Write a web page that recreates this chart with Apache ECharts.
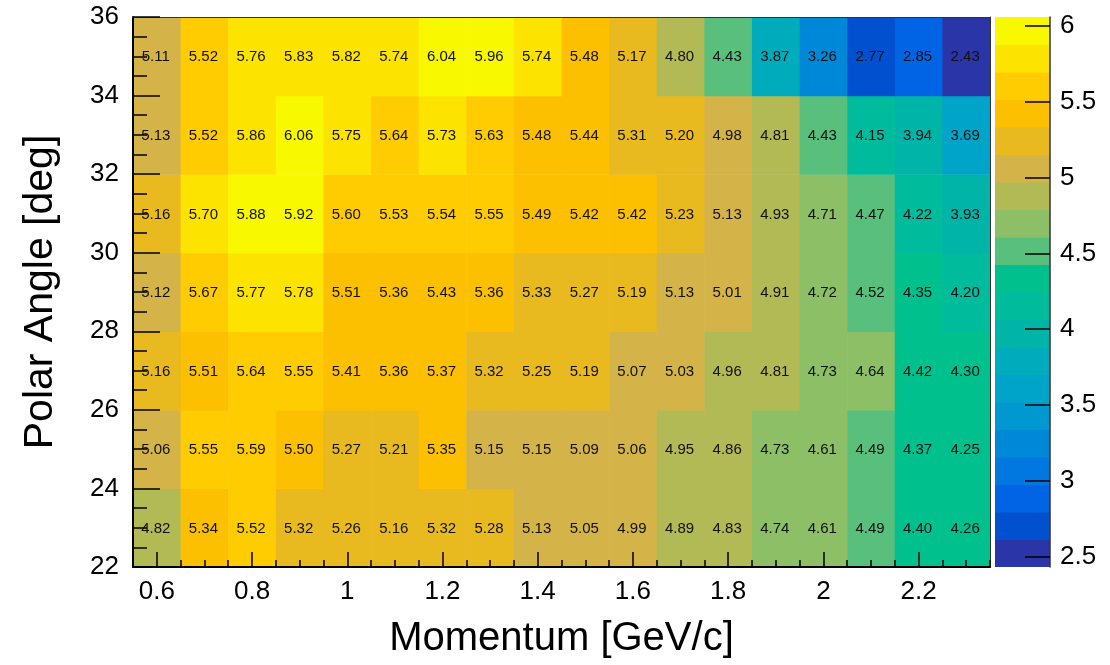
<!DOCTYPE html>
<html>
<head>
<meta charset="utf-8">
<script src="https://cdn.jsdelivr.net/npm/echarts@6/dist/echarts.min.js"></script>
<style>
html,body{margin:0;padding:0;background:#fff;}
#chart{width:1110px;height:665px;}
</style>
</head>
<body>
<div id="chart"></div>
<script>
// ---- data ----
const momentumCenters = [0.6,0.7,0.8,0.9,1.0,1.1,1.2,1.3,1.4,1.5,1.6,1.7,1.8,1.9,2.0,2.1,2.2,2.3];
const angleCenters = [23,25,27,29,31,33,35];
const angle35 = [5.11,5.52,5.76,5.83,5.82,5.74,6.04,5.96,5.74,5.48,5.17,4.80,4.43,3.87,3.26,2.77,2.85,2.43];
const angle33 = [5.13,5.52,5.86,6.06,5.75,5.64,5.73,5.63,5.48,5.44,5.31,5.20,4.98,4.81,4.43,4.15,3.94,3.69];
const angle31 = [5.16,5.70,5.88,5.92,5.60,5.53,5.54,5.55,5.49,5.42,5.42,5.23,5.13,4.93,4.71,4.47,4.22,3.93];
const angle29 = [5.12,5.67,5.77,5.78,5.51,5.36,5.43,5.36,5.33,5.27,5.19,5.13,5.01,4.91,4.72,4.52,4.35,4.20];
const angle27 = [5.16,5.51,5.64,5.55,5.41,5.36,5.37,5.32,5.25,5.19,5.07,5.03,4.96,4.81,4.73,4.64,4.42,4.30];
const angle25 = [5.06,5.55,5.59,5.50,5.27,5.21,5.35,5.15,5.15,5.09,5.06,4.95,4.86,4.73,4.61,4.49,4.37,4.25];
const angle23 = [4.82,5.34,5.52,5.32,5.26,5.16,5.32,5.28,5.13,5.05,4.99,4.89,4.83,4.74,4.61,4.49,4.40,4.26];
const angleRows = [angle23,angle25,angle27,angle29,angle31,angle33,angle35];

const xTickLabels = [0.6,0.8,1.0,1.2,1.4,1.6,1.8,2.0,2.2];
const yTickLabels = [22,24,26,28,30,32,34,36];
const zTickLabels = [2.5,3,3.5,4,4.5,5,5.5,6];
const xMin = 0.55, xMax = 2.35, xBinWidth = 0.1;
const yMin = 22, yMax = 36, yBinWidth = 2;
const zMin = 2.43, zMax = 6.06, nLevels = 20;

// ---- style: palette bands (bottom -> top) ----
const bandColors = [
  '#2a36a8','#0050d0','#0064e4','#0078e0','#0088d8',
  '#0098d0','#00a4c8','#00acbc','#00b4a8','#00bc9c',
  '#00c08e','#58c07c','#8cbf66','#b2ba56','#d4b448',
  '#e8ba20','#fdc000','#fecc00','#fde400','#f8f800'
];
function valueLevel(v){
  let k = Math.floor((v - zMin)/(zMax - zMin)*nLevels);
  return Math.max(0, Math.min(nLevels-1, k));
}

const cells = [];
angleRows.forEach((row, j) => {
  row.forEach((v, i) => cells.push([momentumCenters[i], angleCenters[j], v]));
});
const levels = [];
for (let k = 0; k < nLevels; k++) {
  levels.push([k, zMin + k*(zMax-zMin)/nLevels, zMin + (k+1)*(zMax-zMin)/nLevels]);
}
const xMinorTicks = [];
for (let k = 0; k <= 36; k++) xMinorTicks.push(+(xMin + k*0.05).toFixed(2));

const FONT = "'Liberation Sans', Arial, Helvetica, sans-serif";
const chart = echarts.init(document.getElementById('chart'), null, {renderer:'canvas'});

const option = {
  backgroundColor: '#fff',
  animation: false,
  textStyle: {fontFamily: FONT},
  grid: [
    {left: 133, top: 17, width: 857, height: 550, containLabel: false},
    {left: 995, top: 17, width: 55, height: 550, containLabel: false}
  ],
  xAxis: [
    {
      type: 'value', gridIndex: 0, min: xMin, max: xMax, z: 10,
      name: 'Momentum [GeV/c]', nameLocation: 'middle', nameGap: 52,
      nameTextStyle: {fontSize: 40, color: '#000', fontFamily: FONT},
      axisLine: {show: true, onZero: false, lineStyle: {color: '#000', width: 2}},
      axisTick: {show: true, inside: true, length: 15, customValues: xTickLabels, lineStyle: {color: '#000', width: 1.5}},
      axisLabel: {show: true, customValues: xTickLabels, fontSize: 26, color: '#000', margin: 12, fontFamily: FONT,
                  formatter: v => String(+v.toFixed(2))},
      splitLine: {show: false}
    },
    {
      type: 'value', gridIndex: 0, min: xMin, max: xMax, position: 'bottom', z: 10,
      axisLine: {show: false},
      axisTick: {show: true, inside: true, length: 7, customValues: xMinorTicks, lineStyle: {color: '#000', width: 1.5}},
      axisLabel: {show: false}, splitLine: {show: false}
    },
    {
      type: 'value', gridIndex: 0, min: xMin, max: xMax, position: 'top', z: 10,
      axisLine: {show: true, onZero: false, lineStyle: {color: '#333', width: 1}},
      axisTick: {show: false}, axisLabel: {show: false}, splitLine: {show: false}
    },
    {
      type: 'value', gridIndex: 1, min: 0, max: 1, show: false
    }
  ],
  yAxis: [
    {
      type: 'value', gridIndex: 0, min: yMin, max: yMax, interval: 2, z: 10,
      name: 'Polar Angle [deg]', nameLocation: 'middle', nameGap: 72, nameRotate: 90,
      nameTextStyle: {fontSize: 41, color: '#000', fontFamily: FONT},
      axisLine: {show: true, onZero: false, lineStyle: {color: '#000', width: 2}},
      axisTick: {show: true, inside: true, length: 27, lineStyle: {color: '#000', width: 1.5}},
      minorTick: {show: true, splitNumber: 4, length: 14, lineStyle: {color: '#000', width: 1.5}},
      axisLabel: {show: true, fontSize: 26, color: '#000', margin: 14, fontFamily: FONT},
      splitLine: {show: false}, minorSplitLine: {show: false}
    },
    {
      type: 'value', gridIndex: 0, min: yMin, max: yMax, position: 'right', z: 10,
      axisLine: {show: true, onZero: false, lineStyle: {color: '#333', width: 1}},
      axisTick: {show: false}, axisLabel: {show: false}, splitLine: {show: false}
    },
    {
      type: 'value', gridIndex: 1, min: zMin, max: zMax, position: 'right', z: 10,
      axisLine: {show: true, onZero: false, lineStyle: {color: '#333', width: 1.5}},
      axisTick: {show: true, inside: true, length: 25, customValues: zTickLabels, lineStyle: {color: '#000', width: 1.5}},
      axisLabel: {show: true, customValues: zTickLabels, fontSize: 26, color: '#000', margin: 10, fontFamily: FONT,
                  formatter: v => String(v)},
      splitLine: {show: false}
    }
  ],
  series: [
    {
      type: 'custom', xAxisIndex: 0, yAxisIndex: 0, clip: true, z: 2,
      data: cells,
      renderItem: function(params, api){
        const x = api.value(0), y = api.value(1), v = api.value(2);
        const p0 = api.coord([x - xBinWidth/2, y + yBinWidth/2]);
        const p1 = api.coord([x + xBinWidth/2, y - yBinWidth/2]);
        return {
          type: 'group',
          children: [
            {type: 'rect', shape: {x: p0[0], y: p0[1], width: p1[0]-p0[0] + 0.6, height: p1[1]-p0[1] + 0.6},
             style: {fill: bandColors[valueLevel(v)], stroke: null}},
            {type: 'text', z2: 5, style: {text: v.toFixed(2), x: (p0[0]+p1[0])/2 - 1, y: (p0[1]+p1[1])/2 + 1,
             align: 'center', verticalAlign: 'middle', fontSize: 15, fontFamily: FONT, fill: '#111'}}
          ]
        };
      }
    },
    {
      type: 'custom', xAxisIndex: 3, yAxisIndex: 2, clip: true, z: 2,
      data: levels,
      renderItem: function(params, api){
        const k = api.value(0), lo = api.value(1), hi = api.value(2);
        const p0 = api.coord([0, hi]);
        const p1 = api.coord([1, lo]);
        return {type: 'rect', shape: {x: p0[0], y: p0[1], width: p1[0]-p0[0], height: p1[1]-p0[1] + 0.6},
                style: {fill: bandColors[k], stroke: null}};
      }
    }
  ]
};
chart.setOption(option);
</script>
</body>
</html>
